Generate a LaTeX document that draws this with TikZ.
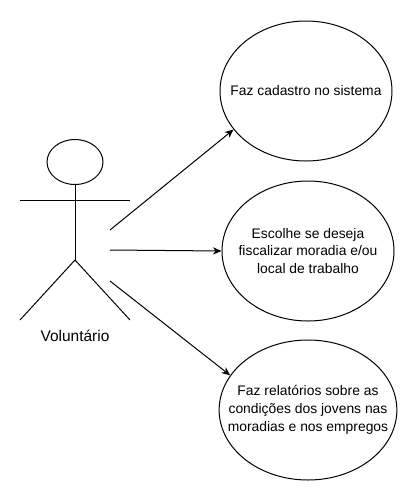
\documentclass[tikz,border=0pt]{standalone}
\usepackage{fontspec}
\setmainfont{Liberation Sans}
\usetikzlibrary{arrows.meta,shapes.geometric}

\tikzset{
  usecase/.style={draw,ellipse,line width=0.75pt,minimum width=129pt,minimum height=105pt,
    inner xsep=-13pt,inner ysep=0pt,align=center,font=\fontsize{10.4}{13.3}\selectfont},
  stick/.style={line width=0.75pt},
  link/.style={line width=0.75pt,-{Stealth[length=6.5pt,width=5.5pt]}}
}

\begin{document}
\begin{tikzpicture}[x=0.75pt,y=-0.75pt]
\useasboundingbox (0,0) rectangle (411,501);

\node[stick,draw,ellipse,minimum width=42pt,minimum height=33.75pt,inner sep=0pt] (head) at (75,162) {};
\draw[stick] (head.south) -- (75,260) coordinate (hip);
\draw[stick] (20,200) -- (130,200);
\draw[stick] (20,320) -- (hip) -- (130,320);
\node[font=\fontsize{11.6}{14}\selectfont] (actor) at (75,336) {Voluntário};

\node[usecase] (cadastro) at (306,91) {Faz cadastro no sistema};
\node[usecase] (escolhe) at (308,251) {Escolhe se deseja\\fiscalizar moradia e/ou\\local de trabalho};
\node[usecase] (relatorio) at (308,410) {Faz relatórios sobre as\\condições dos jovens nas\\moradias e nos empregos};

\coordinate (a1) at (110,230);
\coordinate (a2) at (110,250);
\coordinate (a3) at (110,281);

\draw[link] (a1) -- (cadastro.208);
\draw[link] (a2) -- (escolhe.west);
\draw[link] (a3) -- (relatorio.156);
\end{tikzpicture}
\end{document}
